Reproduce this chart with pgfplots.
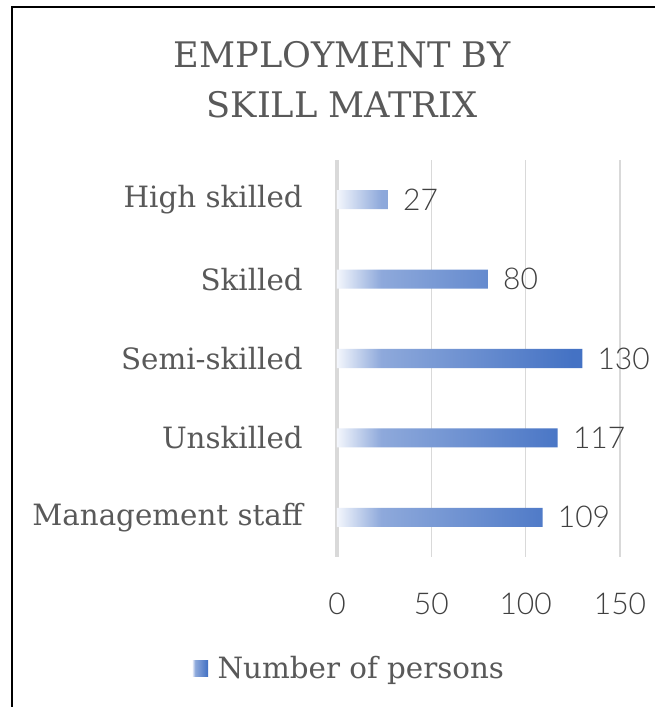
\documentclass[border=0pt]{standalone}
\usepackage{fontspec}
\usepackage{pgfplots}
\pgfplotsset{compat=1.18}
\setmainfont{DejaVu Serif}
\newfontfamily\numfont{Lato Light}
\definecolor{txt}{HTML}{595959}
\definecolor{numc}{HTML}{404040}
\definecolor{gridc}{HTML}{D9D9D9}
\definecolor{c0}{HTML}{F3F6FC}
\definecolor{c1}{HTML}{8EA9DB}
\definecolor{c2}{HTML}{4472C4}
\pgfdeclarehorizontalshading{barshade}{100bp}{color(0bp)=(c0); color(25bp)=(c0); color(34bp)=(c1); color(73bp)=(c2); color(100bp)=(c2)}

\begin{document}
\begin{tikzpicture}
% 1px = 0.75pt, canvas 655x707 px
\fill[white] (0,0) rectangle (491.25pt,530.25pt);
\useasboundingbox (0,0) rectangle (491.25pt,530.25pt);
\draw[black, line width=1.5pt] (9pt,0pt) -- (9pt,525pt) -- (491.25pt,525pt);

\node[text=txt, align=center, font=\fontsize{26.4}{37.5}\selectfont] at (256.5pt,470.25pt)
  {EMPLOYMENT BY\\SKILL MATRIX};

\begin{axis}[
  at={(252.75pt,112.5pt)}, anchor=south west,
  scale only axis, width=212.25pt, height=297.75pt,
  xbar, bar width=0.24,
  xmin=0, xmax=150, ymin=-0.5, ymax=4.5,
  xtick={0,50,100,150}, ytick={0,1,2,3,4},
  yticklabels={Management staff,Unskilled,Semi-skilled,Skilled,High skilled},
  axis line style={draw=none}, major tick length=0pt,
  xmajorgrids, grid style={gridc, line width=1.1pt},
  extra x ticks={0}, extra x tick labels={},
  extra x tick style={grid style={gridc, line width=2.6pt}},
  /pgf/number format/assume math mode=true,
  xticklabel style={font=\numfont\fontsize{22.5}{26}\selectfont, text=numc, anchor=center, yshift=-35pt},
  yticklabel style={font=\fontsize{22}{26}\selectfont, text=txt, anchor=east, inner sep=0pt, xshift=-25.5pt},
  clip=false,
  nodes near coords, point meta=x,
  nodes near coords style={font=\numfont\fontsize{22.5}{26}\selectfont, text=numc, anchor=west, inner sep=0pt, xshift=11.25pt},
  legend style={at={(0.044,-0.28)}, anchor=center, draw=none, fill=none,
    font=\fontsize{22}{26}\selectfont, text=txt},
  legend image code/.code={\shade[shading=barshade] (0pt,-6pt) rectangle (12pt,6pt); \path (0pt,0pt) -- (17pt,0pt);},
]
\addplot[draw=none, shade, shading=barshade] coordinates {(109,0) (117,1) (130,2) (80,3) (27,4)};
\addlegendentry{Number of persons}
\end{axis}
\end{tikzpicture}
\end{document}
